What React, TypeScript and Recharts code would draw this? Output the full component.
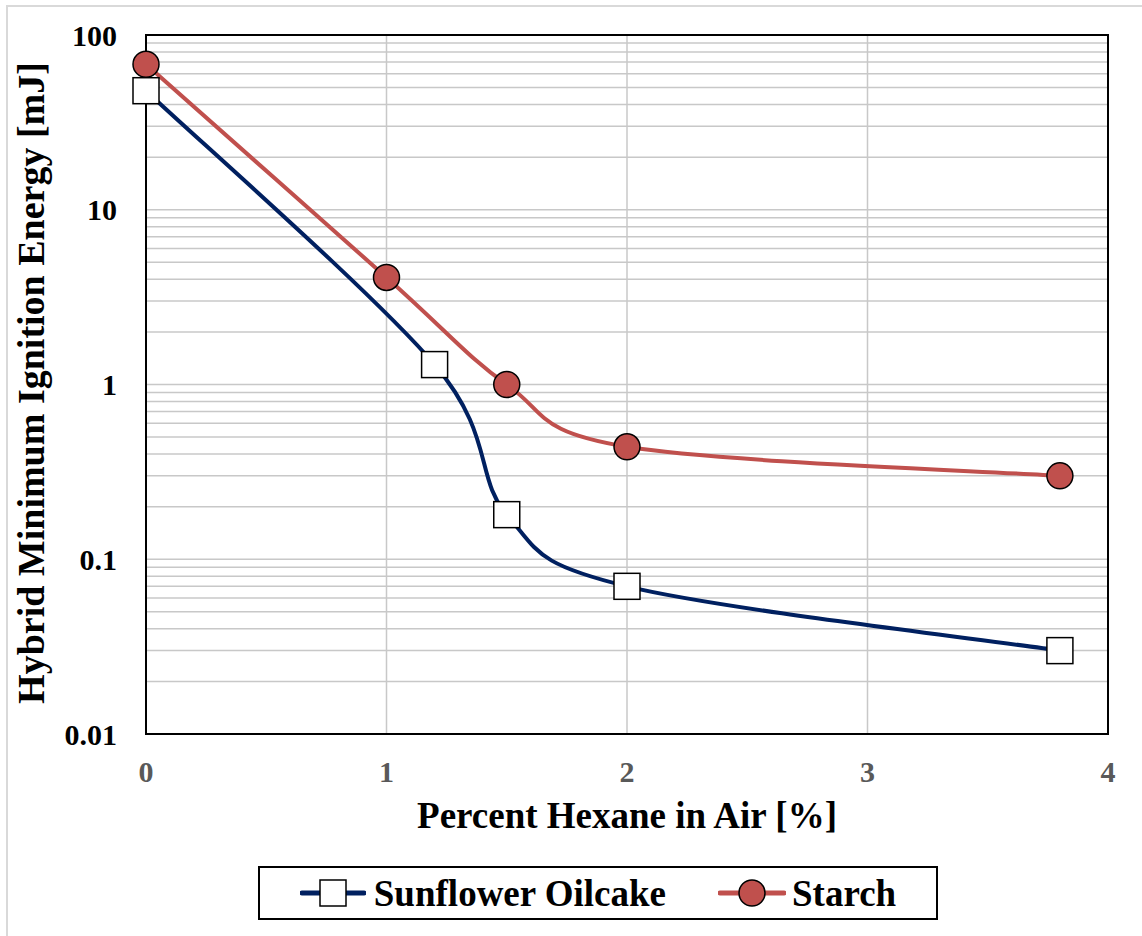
import { LineChart, Line, XAxis, YAxis, CartesianGrid, ReferenceArea } from "recharts";

// values
const sunflowerHexane = [0, 1.2, 1.5, 2, 3.8];
const sunflowerMIE = [48, 1.3, 0.18, 0.07, 0.03];
const starchHexane = [0, 1, 1.5, 2, 3.8];
const starchMIE = [68, 4.1, 1.0, 0.44, 0.3];

const xTicks = [0, 1, 2, 3, 4];
// log grid: every 1..9 step of each decade, only powers of ten get a label
const yTicks = [
  0.01, 0.02, 0.03, 0.04, 0.05, 0.06, 0.07, 0.08, 0.09,
  0.1, 0.2, 0.3, 0.4, 0.5, 0.6, 0.7, 0.8, 0.9,
  1, 2, 3, 4, 5, 6, 7, 8, 9,
  10, 20, 30, 40, 50, 60, 70, 80, 90,
  100,
];
const yLabelled = [0.01, 0.1, 1, 10, 100];

const sunflowerData = sunflowerHexane.map((x, i) => ({ x, y: sunflowerMIE[i] }));
const starchData = starchHexane.map((x, i) => ({ x, y: starchMIE[i] }));

const NAVY = "#002060";
const RED = "#C0504D";
const FONT = '"Liberation Serif", "Times New Roman", serif';

// Excel-like smoothed line (Catmull-Rom as cubic beziers)
function excelSmooth(context: any) {
  let pts: number[][] = [];
  return {
    areaStart() {},
    areaEnd() {},
    lineStart() {
      pts = [];
    },
    point(x: number, y: number) {
      pts.push([+x, +y]);
    },
    lineEnd() {
      const n = pts.length;
      if (!n) return;
      context.moveTo(pts[0][0], pts[0][1]);
      for (let i = 0; i < n - 1; i++) {
        const p0 = pts[Math.max(i - 1, 0)];
        const p1 = pts[i];
        const p2 = pts[i + 1];
        const p3 = pts[Math.min(i + 2, n - 1)];
        context.bezierCurveTo(
          p1[0] + (p2[0] - p0[0]) / 6,
          p1[1] + (p2[1] - p0[1]) / 6,
          p2[0] - (p3[0] - p1[0]) / 6,
          p2[1] - (p3[1] - p1[1]) / 6,
          p2[0],
          p2[1]
        );
      }
    },
  };
}

const SquareDot = (props: any) => {
  const { cx, cy, index } = props;
  if (cx == null || cy == null) return <g key={"s" + index} />;
  return (
    <rect key={"s" + index} x={cx - 13} y={cy - 13} width={26} height={26}
      fill="#fff" stroke="#000" strokeWidth={1.5} />
  );
};

const CircleDot = (props: any) => {
  const { cx, cy, index } = props;
  if (cx == null || cy == null) return <g key={"c" + index} />;
  return <circle key={"c" + index} cx={cx} cy={cy} r={13} fill={RED} stroke="#000" strokeWidth={1.5} />;
};

export default function App() {
  return (
    <div style={{ position: "fixed", left: 0, top: 0, width: 1142, height: 936, background: "#fff", fontFamily: FONT }}>
      {/* outer chart frame */}
      <div style={{ position: "absolute", left: 6, top: 5, width: 1140, height: 935, borderLeft: "2px solid #d9d9d9", borderTop: "2px solid #d9d9d9" }} />

      <div style={{ position: "absolute", left: 0, top: 0 }}>
        <LineChart width={1142} height={936} margin={{ top: 35, right: 34, bottom: 142, left: 0 }}>
          <CartesianGrid stroke="#c8c8c8" strokeWidth={1.5} />
          <XAxis
            type="number"
            dataKey="x"
            domain={[0, 4]}
            ticks={xTicks}
            interval={0}
            height={60}
            tickSize={0}
            tickMargin={27}
            axisLine={{ stroke: "#000", strokeWidth: 2 }}
            tick={{ fill: "#595959", fontSize: 30, fontWeight: "bold", fontFamily: FONT }}
          />
          <YAxis
            type="number"
            dataKey="y"
            scale="log"
            domain={[0.01, 100]}
            allowDataOverflow
            ticks={yTicks}
            interval={0}
            width={146}
            tickSize={0}
            tickMargin={29}
            tickFormatter={(v: number) => (yLabelled.includes(v) ? String(v) : "")}
            axisLine={{ stroke: "#000", strokeWidth: 2 }}
            tick={{ fill: "#000", fontSize: 30, fontWeight: "bold", fontFamily: FONT }}
          />
          <ReferenceArea x1={0} x2={4} y1={0.01} y2={100} fill="none" stroke="#000" strokeWidth={2} />
          <Line
            data={sunflowerData}
            dataKey="y"
            type={excelSmooth as any}
            stroke={NAVY}
            strokeWidth={4}
            dot={SquareDot}
            activeDot={false}
            isAnimationActive={false}
            name="Sunflower Oilcake"
          />
          <Line
            data={starchData}
            dataKey="y"
            type={excelSmooth as any}
            stroke={RED}
            strokeWidth={4}
            dot={CircleDot}
            activeDot={false}
            isAnimationActive={false}
            name="Starch"
          />
        </LineChart>
      </div>

      {/* axis titles */}
      <svg width={1142} height={936} style={{ position: "absolute", left: 0, top: 0, pointerEvents: "none" }}>
        <text x={627} y={828} textAnchor="middle" fontSize={37} fontWeight="bold" fontFamily={FONT} fill="#000">
          Percent Hexane in Air [%]
        </text>
        <text x={44} y={383} transform="rotate(-90, 44, 383)" textAnchor="middle" fontSize={38} fontWeight="bold" fontFamily={FONT} fill="#000">
          Hybrid Minimum Ignition Energy [mJ]
        </text>
      </svg>

      {/* legend */}
      <div
        style={{
          position: "absolute", left: 258, top: 866, width: 680, height: 54, boxSizing: "border-box",
          border: "2px solid #000", display: "flex", alignItems: "center", justifyContent: "center",
          gap: 52, fontSize: 37, fontWeight: "bold", color: "#000",
        }}
      >
        <div style={{ display: "flex", alignItems: "center", gap: 8 }}>
          <svg width={66} height={30}>
            <line x1={2} y1={15} x2={64} y2={15} stroke={NAVY} strokeWidth={5} strokeLinecap="round" />
            <rect x={20} y={2} width={26} height={26} fill="#fff" stroke="#000" strokeWidth={1.5} />
          </svg>
          <span>Sunflower Oilcake</span>
        </div>
        <div style={{ display: "flex", alignItems: "center", gap: 6 }}>
          <svg width={68} height={30}>
            <line x1={2} y1={15} x2={66} y2={15} stroke={RED} strokeWidth={5} strokeLinecap="round" />
            <circle cx={34} cy={15} r={13} fill={RED} stroke="#000" strokeWidth={1.5} />
          </svg>
          <span>Starch</span>
        </div>
      </div>
    </div>
  );
}
